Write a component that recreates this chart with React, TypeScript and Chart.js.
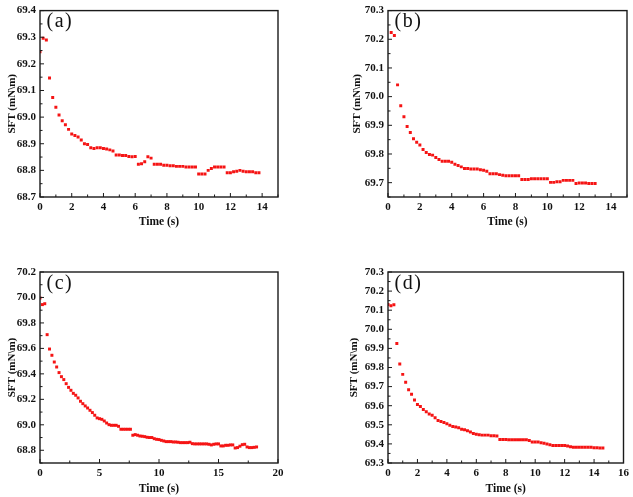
import React, { useEffect, useRef } from "react";
import { Chart, registerables } from "chart.js";

Chart.register(...registerables);

// ---------- data ----------
const timeA = [0, 0.2, 0.4, 0.6, 0.8, 1.0, 1.2, 1.4, 1.6, 1.8, 2.0, 2.2, 2.4, 2.6, 2.8, 3.0, 3.2, 3.4, 3.6, 3.8, 4.0, 4.2, 4.4, 4.6, 4.8, 5.0, 5.2, 5.4, 5.6, 5.8, 6.0, 6.2, 6.4, 6.6, 6.8, 7.0, 7.2, 7.4, 7.6, 7.8, 8.0, 8.2, 8.4, 8.6, 8.8, 9.0, 9.2, 9.4, 9.6, 9.8, 10.0, 10.2, 10.4, 10.6, 10.8, 11.0, 11.2, 11.4, 11.6, 11.8, 12.0, 12.2, 12.4, 12.6, 12.8, 13.0, 13.2, 13.4, 13.6, 13.8];
const sftA = [69.245, 69.296, 69.29, 69.147, 69.074, 69.037, 69.008, 68.986, 68.971, 68.954, 68.937, 68.931, 68.925, 68.914, 68.9, 68.897, 68.885, 68.882, 68.885, 68.885, 68.882, 68.88, 68.877, 68.873, 68.858, 68.858, 68.856, 68.856, 68.852, 68.851, 68.852, 68.823, 68.825, 68.832, 68.851, 68.846, 68.823, 68.823, 68.823, 68.819, 68.819, 68.817, 68.817, 68.815, 68.815, 68.815, 68.813, 68.813, 68.813, 68.813, 68.786, 68.786, 68.786, 68.8, 68.807, 68.813, 68.813, 68.813, 68.813, 68.791, 68.791, 68.795, 68.797, 68.8, 68.797, 68.795, 68.795, 68.795, 68.791, 68.791];

const timeB = [0.2, 0.4, 0.6, 0.8, 1.0, 1.2, 1.4, 1.6, 1.8, 2.0, 2.2, 2.4, 2.6, 2.8, 3.0, 3.2, 3.4, 3.6, 3.8, 4.0, 4.2, 4.4, 4.6, 4.8, 5.0, 5.2, 5.4, 5.6, 5.8, 6.0, 6.2, 6.4, 6.6, 6.8, 7.0, 7.2, 7.4, 7.6, 7.8, 8.0, 8.2, 8.4, 8.6, 8.8, 9.0, 9.2, 9.4, 9.6, 9.8, 10.0, 10.2, 10.4, 10.6, 10.8, 11.0, 11.2, 11.4, 11.6, 11.8, 12.0, 12.2, 12.4, 12.6, 12.8, 13.0];
const sftB = [70.224, 70.213, 70.041, 69.968, 69.93, 69.896, 69.875, 69.853, 69.841, 69.831, 69.816, 69.805, 69.798, 69.796, 69.788, 69.781, 69.775, 69.775, 69.775, 69.771, 69.764, 69.76, 69.755, 69.749, 69.749, 69.748, 69.748, 69.748, 69.745, 69.743, 69.74, 69.731, 69.731, 69.731, 69.728, 69.726, 69.724, 69.724, 69.724, 69.724, 69.724, 69.711, 69.711, 69.711, 69.714, 69.714, 69.714, 69.714, 69.714, 69.714, 69.701, 69.701, 69.703, 69.703, 69.708, 69.708, 69.708, 69.708, 69.697, 69.699, 69.699, 69.699, 69.697, 69.697, 69.697];

const timeC = [0, 0.2, 0.4, 0.6, 0.8, 1.0, 1.2, 1.4, 1.6, 1.8, 2.0, 2.2, 2.4, 2.6, 2.8, 3.0, 3.2, 3.4, 3.6, 3.8, 4.0, 4.2, 4.4, 4.6, 4.8, 5.0, 5.2, 5.4, 5.6, 5.8, 6.0, 6.2, 6.4, 6.6, 6.8, 7.0, 7.2, 7.4, 7.6, 7.8, 8.0, 8.2, 8.4, 8.6, 8.8, 9.0, 9.2, 9.4, 9.6, 9.8, 10.0, 10.2, 10.4, 10.6, 10.8, 11.0, 11.2, 11.4, 11.6, 11.8, 12.0, 12.2, 12.4, 12.6, 12.8, 13.0, 13.2, 13.4, 13.6, 13.8, 14.0, 14.2, 14.4, 14.6, 14.8, 15.0, 15.2, 15.4, 15.6, 15.8, 16.0, 16.2, 16.4, 16.6, 16.8, 17.0, 17.2, 17.4, 17.6, 17.8, 18.0, 18.2];
const sftC = [69.996, 69.944, 69.951, 69.708, 69.595, 69.546, 69.493, 69.454, 69.41, 69.378, 69.355, 69.323, 69.294, 69.271, 69.247, 69.232, 69.211, 69.185, 69.166, 69.148, 69.132, 69.114, 69.096, 69.075, 69.054, 69.048, 69.043, 69.03, 69.014, 69.001, 68.996, 68.996, 68.996, 68.988, 68.965, 68.965, 68.965, 68.965, 68.965, 68.918, 68.923, 68.918, 68.912, 68.91, 68.907, 68.902, 68.9, 68.9, 68.891, 68.886, 68.884, 68.878, 68.873, 68.868, 68.868, 68.868, 68.865, 68.865, 68.863, 68.86, 68.86, 68.86, 68.86, 68.863, 68.852, 68.85, 68.85, 68.85, 68.85, 68.85, 68.85, 68.847, 68.842, 68.847, 68.85, 68.85, 68.834, 68.834, 68.839, 68.839, 68.842, 68.842, 68.818, 68.821, 68.832, 68.844, 68.847, 68.826, 68.821, 68.821, 68.823, 68.826];

const timeD = [0, 0.2, 0.4, 0.6, 0.8, 1.0, 1.2, 1.4, 1.6, 1.8, 2.0, 2.2, 2.4, 2.6, 2.8, 3.0, 3.2, 3.4, 3.6, 3.8, 4.0, 4.2, 4.4, 4.6, 4.8, 5.0, 5.2, 5.4, 5.6, 5.8, 6.0, 6.2, 6.4, 6.6, 6.8, 7.0, 7.2, 7.4, 7.6, 7.8, 8.0, 8.2, 8.4, 8.6, 8.8, 9.0, 9.2, 9.4, 9.6, 9.8, 10.0, 10.2, 10.4, 10.6, 10.8, 11.0, 11.2, 11.4, 11.6, 11.8, 12.0, 12.2, 12.4, 12.6, 12.8, 13.0, 13.2, 13.4, 13.6, 13.8, 14.0, 14.2, 14.4, 14.6];
const sftD = [70.13, 70.123, 70.128, 69.926, 69.818, 69.764, 69.723, 69.683, 69.66, 69.63, 69.606, 69.596, 69.58, 69.568, 69.557, 69.55, 69.537, 69.523, 69.517, 69.512, 69.505, 69.498, 69.491, 69.488, 69.484, 69.477, 69.474, 69.469, 69.462, 69.455, 69.451, 69.448, 69.446, 69.446, 69.446, 69.443, 69.443, 69.441, 69.423, 69.423, 69.423, 69.422, 69.422, 69.422, 69.422, 69.422, 69.422, 69.422, 69.418, 69.41, 69.41, 69.41, 69.406, 69.403, 69.4, 69.396, 69.392, 69.392, 69.392, 69.392, 69.392, 69.389, 69.385, 69.383, 69.383, 69.383, 69.383, 69.383, 69.383, 69.383, 69.38, 69.38, 69.378, 69.378];

// tick labels
const xTicksA = [0, 2, 4, 6, 8, 10, 12, 14];
const yTicksA = [68.7, 68.8, 68.9, 69.0, 69.1, 69.2, 69.3, 69.4];
const xTicksB = [0, 2, 4, 6, 8, 10, 12, 14];
const yTicksB = [69.7, 69.8, 69.9, 70.0, 70.1, 70.2, 70.3];
const xTicksC = [0, 5, 10, 15, 20];
const yTicksC = [68.8, 69.0, 69.2, 69.4, 69.6, 69.8, 70.0, 70.2];
const xTicksD = [0, 2, 4, 6, 8, 10, 12, 14, 16];
const yTicksD = [69.3, 69.4, 69.5, 69.6, 69.7, 69.8, 69.9, 70.0, 70.1, 70.2, 70.3];

const panelLabels = ["(a)", "(b)", "(c)", "(d)"];
const xTitle = "Time (s)";
const yTitle = "SFT (mN\\m)";

const SERIF = "'Liberation Serif', 'Times New Roman', serif";
const RED = "rgb(245,20,20)";

// ---------- frame / inward ticks / panel label plugin ----------
const framePlugin = {
  id: "sftFrame",
  afterDatasetsDraw(chart: any, _args: any, opts: any) {
    const { ctx, chartArea: a } = chart;
    const xs = chart.scales.x;
    const ys = chart.scales.y;
    ctx.save();
    ctx.strokeStyle = "#1a1a1a";
    ctx.lineWidth = 1.4;
    ctx.strokeRect(a.left, a.top, a.right - a.left, a.bottom - a.top);

    const marks = (scale: any, horizontal: boolean) => {
      const vals = scale.ticks.map((t: any) => t.value);
      const step = vals[1] - vals[0];
      const half = step / 2;
      const lo = scale.min;
      const hi = scale.max;
      ctx.lineWidth = 1;
      for (let k = -2; k < vals.length * 2 + 2; k++) {
        const v = vals[0] + k * half;
        if (v < lo - 1e-9 || v > hi + 1e-9) continue;
        const major = k % 2 === 0;
        const len = major ? 4 : 2.5;
        const p = scale.getPixelForValue(v);
        ctx.beginPath();
        if (horizontal) {
          ctx.moveTo(p, a.bottom);
          ctx.lineTo(p, a.bottom - len);
        } else {
          ctx.moveTo(a.left, p);
          ctx.lineTo(a.left + len, p);
        }
        ctx.stroke();
      }
    };
    marks(xs, true);
    marks(ys, false);

    if (opts && opts.label) {
      ctx.fillStyle = "#111";
      ctx.font = `20px ${SERIF}`;
      (ctx as any).letterSpacing = "1.5px";
      ctx.textAlign = "left";
      ctx.textBaseline = "middle";
      ctx.fillText(opts.label, a.left + 6.5, a.top + 11.5);
    }
    ctx.restore();
  },
};

type PanelProps = {
  times: number[];
  values: number[];
  xTicks: number[];
  yTicks: number[];
  xMin: number;
  xMax: number;
  yMin: number;
  yMax: number;
  label: string;
  box: { left: number; top: number; width: number; height: number };
  pad: { left: number; right: number; top: number; bottom: number };
  yWidth: number;
  xHeight: number;
  yDecimals: number;
};

function Panel(p: PanelProps) {
  const ref = useRef<HTMLCanvasElement | null>(null);
  useEffect(() => {
    if (!ref.current) return;
    const chart = new Chart(ref.current, {
      type: "scatter",
      data: {
        datasets: [
          {
            data: p.times.map((t, i) => ({ x: t, y: p.values[i] })),
            backgroundColor: RED,
            borderWidth: 0,
            pointStyle: "rect",
            pointRadius: 2.1,
            showLine: false,
          },
        ],
      },
      options: {
        animation: false,
        responsive: false,
        maintainAspectRatio: false,
        devicePixelRatio: 1,
        layout: { padding: p.pad },
        plugins: {
          legend: { display: false },
          tooltip: { enabled: false },
          sftFrame: { label: p.label },
        } as any,
        scales: {
          x: {
            type: "linear",
            min: p.xMin,
            max: p.xMax,
            grid: { display: false, drawTicks: false },
            border: { display: false },
            afterBuildTicks: (s: any) => {
              s.ticks = p.xTicks.map((v) => ({ value: v }));
            },
            afterFit: (s: any) => {
              s.height = p.xHeight;
            },
            ticks: {
              color: "#111",
              padding: 4,
              maxRotation: 0,
              font: { family: SERIF, size: 11, weight: "bold" },
              callback: (v: any) => String(v),
            },
            title: {
              display: true,
              text: xTitle,
              color: "#111",
              padding: 0,
              font: { family: SERIF, size: 11.5, weight: "bold" },
            },
          },
          y: {
            type: "linear",
            min: p.yMin,
            max: p.yMax,
            grid: { display: false, drawTicks: false },
            border: { display: false },
            afterBuildTicks: (s: any) => {
              s.ticks = p.yTicks.map((v) => ({ value: v }));
            },
            afterFit: (s: any) => {
              s.width = p.yWidth;
            },
            ticks: {
              color: "#111",
              padding: 4,
              font: { family: SERIF, size: 11, weight: "bold" },
              callback: (v: any) => Number(v).toFixed(p.yDecimals),
            },
            title: {
              display: true,
              text: yTitle,
              color: "#111",
              padding: 0,
              font: { family: SERIF, size: 11, weight: "bold" },
            },
          },
        },
      },
      plugins: [framePlugin as any],
    });
    return () => chart.destroy();
  }, []);
  return (
    <div
      style={{
        position: "absolute",
        left: p.box.left,
        top: p.box.top,
        width: p.box.width,
        height: p.box.height,
      }}
    >
      <canvas ref={ref} width={p.box.width} height={p.box.height} style={{ display: "block" }} />
    </div>
  );
}

export default function App() {
  useEffect(() => {
    document.body.style.margin = "0";
    document.body.style.background = "#fff";
  }, []);
  return (
    <div style={{ position: "absolute", left: 0, top: 0, width: 633, height: 497, background: "#fff", overflow: "hidden" }}>
      <Panel
        times={timeA} values={sftA} xTicks={xTicksA} yTicks={yTicksA}
        xMin={0} xMax={15} yMin={68.7} yMax={69.4} label={panelLabels[0]}
        box={{ left: 0, top: 0, width: 316, height: 248 }}
        pad={{ left: 6, right: 38, top: 5, bottom: 19 }}
        yWidth={34} xHeight={32} yDecimals={1}
      />
      <Panel
        times={timeB} values={sftB} xTicks={xTicksB} yTicks={yTicksB}
        xMin={0} xMax={15} yMin={69.65} yMax={70.3} label={panelLabels[1]}
        box={{ left: 316, top: 0, width: 317, height: 248 }}
        pad={{ left: 34.5, right: 6, top: 5, bottom: 19 }}
        yWidth={37.5} xHeight={32} yDecimals={1}
      />
      <Panel
        times={timeC} values={sftC} xTicks={xTicksC} yTicks={yTicksC}
        xMin={0} xMax={20} yMin={68.7} yMax={70.2} label={panelLabels[2]}
        box={{ left: 0, top: 248, width: 316, height: 249 }}
        pad={{ left: 5.7, right: 38, top: 24, bottom: 1 }}
        yWidth={34.3} xHeight={33} yDecimals={1}
      />
      <Panel
        times={timeD} values={sftD} xTicks={xTicksD} yTicks={yTicksD}
        xMin={0} xMax={16} yMin={69.3} yMax={70.3} label={panelLabels[3]}
        box={{ left: 316, top: 248, width: 317, height: 249 }}
        pad={{ left: 31.4, right: 7, top: 24, bottom: 1 }}
        yWidth={40.6} xHeight={33} yDecimals={1}
      />
    </div>
  );
}
